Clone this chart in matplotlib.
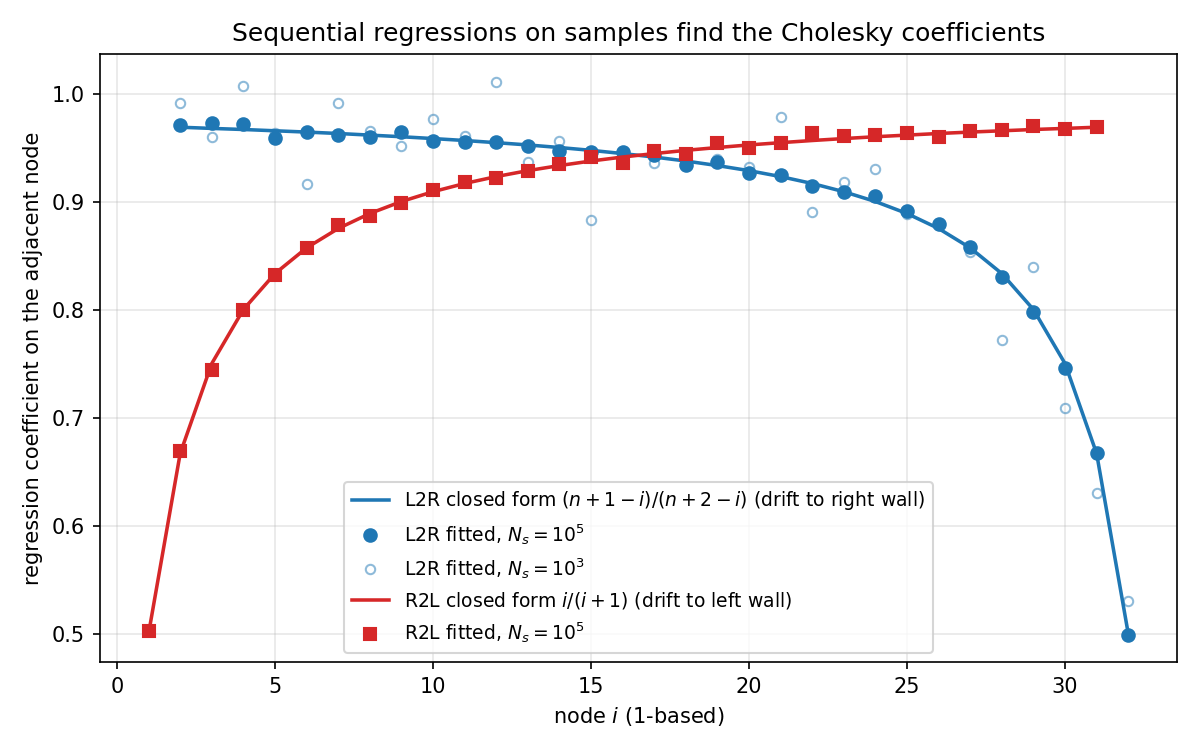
import matplotlib.pyplot as plt

# node indices
i_l2r = list(range(2, 33))
i_r2l = list(range(1, 32))

# closed forms (values per node)
l2r_closed = [0.9688, 0.9677, 0.9667, 0.9655, 0.9643, 0.9630, 0.9615, 0.9600,
              0.9583, 0.9565, 0.9545, 0.9524, 0.9500, 0.9474, 0.9444, 0.9412,
              0.9375, 0.9333, 0.9286, 0.9231, 0.9167, 0.9091, 0.9000, 0.8889,
              0.8750, 0.8571, 0.8333, 0.8000, 0.7500, 0.6667, 0.5000]
r2l_closed = [0.5000, 0.6667, 0.7500, 0.8000, 0.8333, 0.8571, 0.8750, 0.8889,
              0.9000, 0.9091, 0.9167, 0.9231, 0.9286, 0.9333, 0.9375, 0.9412,
              0.9444, 0.9474, 0.9500, 0.9524, 0.9545, 0.9565, 0.9583, 0.9600,
              0.9615, 0.9630, 0.9643, 0.9655, 0.9667, 0.9677, 0.9688]

# fitted values
l2r_fit_1e5 = [0.971, 0.973, 0.972, 0.959, 0.964, 0.962, 0.960, 0.964,
               0.956, 0.955, 0.955, 0.951, 0.947, 0.946, 0.946, 0.943,
               0.934, 0.937, 0.926, 0.925, 0.914, 0.909, 0.905, 0.891,
               0.879, 0.858, 0.830, 0.798, 0.746, 0.667, 0.499]
l2r_fit_1e3 = [0.991, 0.960, 1.007, 0.963, 0.916, 0.991, 0.965, 0.951,
               0.976, 0.961, 1.011, 0.937, 0.956, 0.883, 0.945, 0.936,
               0.935, 0.939, 0.932, 0.978, 0.890, 0.918, 0.930, 0.888,
               0.878, 0.853, 0.772, 0.839, 0.709, 0.630, 0.530]
r2l_fit_1e5 = [0.502, 0.669, 0.744, 0.800, 0.832, 0.857, 0.878, 0.887,
               0.899, 0.911, 0.918, 0.922, 0.928, 0.935, 0.941, 0.936,
               0.947, 0.944, 0.954, 0.950, 0.954, 0.963, 0.961, 0.962,
               0.963, 0.960, 0.965, 0.966, 0.970, 0.967, 0.969]

blue = "#1f77b4"
red = "#d62728"

fig, ax = plt.subplots(figsize=(8, 5), dpi=150)
fig.subplots_adjust(left=0.083, right=0.981, bottom=0.117, top=0.928)

ax.plot(i_l2r, l2r_closed, color=blue, lw=1.7,
        label=r"L2R closed form $(n+1-i)/(n+2-i)$ (drift to right wall)")
ax.plot(i_l2r, l2r_fit_1e5, "o", color=blue, ms=6,
        label=r"L2R fitted, $N_s=10^5$")
ax.plot(i_l2r, l2r_fit_1e3, "o", mfc="none", mec=blue, mew=1, ms=4.5,
        alpha=0.5, label=r"L2R fitted, $N_s=10^3$")
ax.plot(i_r2l, r2l_closed, color=red, lw=1.7,
        label=r"R2L closed form $i/(i+1)$ (drift to left wall)")
ax.plot(i_r2l, r2l_fit_1e5, "s", color=red, ms=5.5,
        label=r"R2L fitted, $N_s=10^5$")

ax.grid(True, alpha=0.3)
ax.set_title("Sequential regressions on samples find the Cholesky coefficients")
ax.set_xlabel("node $i$ (1-based)")
ax.set_ylabel("regression coefficient on the adjacent node")
ax.legend(loc="lower center", fontsize=9)

plt.savefig("out.png", dpi=150)
